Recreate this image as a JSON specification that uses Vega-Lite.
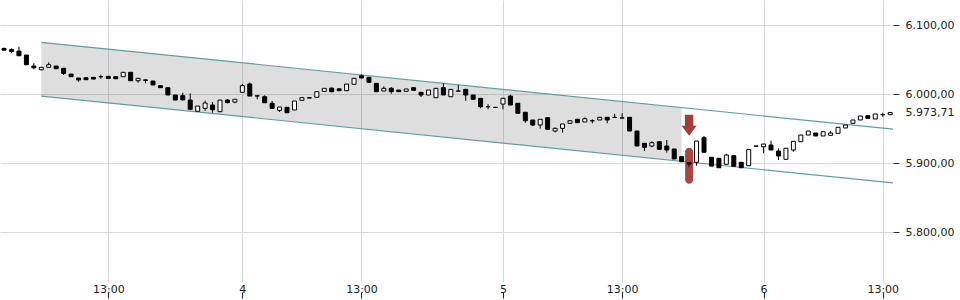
{
  "$schema": "https://vega.github.io/schema/vega-lite/v6.json",
  "width": 893,
  "height": 282,
  "autosize": {"type": "none"},
  "padding": {"left": 0, "top": 0, "right": 67, "bottom": 18},
  "background": "white",
  "config": {"view": {"stroke": null}},
  "datasets": {
    "candles": [
      {"i":0,"open":6066.5,"high":6067.5,"low":6063.5,"close":6064},
      {"i":1,"open":6065,"high":6066.7,"low":6059.5,"close":6062},
      {"i":2,"open":6062.7,"high":6069,"low":6055.9,"close":6055.9},
      {"i":3,"open":6056.9,"high":6057,"low":6042.9,"close":6042.9},
      {"i":4,"open":6041,"high":6045,"low":6036.2,"close":6038.5},
      {"i":5,"open":6035.6,"high":6039.5,"low":6035,"close":6039.1},
      {"i":6,"open":6039.1,"high":6046.4,"low":6039.1,"close":6042.9},
      {"i":7,"open":6041,"high":6041,"low":6037.1,"close":6037.1},
      {"i":8,"open":6037.7,"high":6037.7,"low":6028,"close":6030.4},
      {"i":9,"open":6029.4,"high":6029.4,"low":6025.5,"close":6025.5},
      {"i":10,"open":6023.6,"high":6023.6,"low":6018.3,"close":6020.7},
      {"i":11,"open":6024,"high":6024.5,"low":6021,"close":6021.2},
      {"i":12,"open":6024.6,"high":6025,"low":6021.5,"close":6022.2},
      {"i":13,"open":6025.4,"high":6028.4,"low":6022.6,"close":6025.6},
      {"i":14,"open":6026,"high":6026.5,"low":6023,"close":6023},
      {"i":15,"open":6025.5,"high":6025.5,"low":6022.6,"close":6022.6},
      {"i":16,"open":6025.5,"high":6031.9,"low":6025.5,"close":6031.9},
      {"i":17,"open":6031.9,"high":6031.9,"low":6019.7,"close":6019.7},
      {"i":18,"open":6019.7,"high":6023.2,"low":6016.8,"close":6023.2},
      {"i":19,"open":6020.9,"high":6021,"low":6015.9,"close":6020.3},
      {"i":20,"open":6019.3,"high":6019.3,"low":6013.5,"close":6013.5},
      {"i":21,"open":6012.5,"high":6012.5,"low":6009.6,"close":6009.6},
      {"i":22,"open":6009.6,"high":6009.6,"low":5999,"close":5999},
      {"i":23,"open":5999,"high":5999,"low":5991.7,"close":5991.7},
      {"i":24,"open":5998,"high":6002.3,"low":5991,"close":5992},
      {"i":25,"open":5991.7,"high":6001.4,"low":5978.3,"close":5978.3},
      {"i":26,"open":5975.4,"high":5983,"low":5975,"close":5983},
      {"i":27,"open":5979.7,"high":5991,"low":5976,"close":5987.4},
      {"i":28,"open":5984.5,"high":5988.8,"low":5973.4,"close":5977.7},
      {"i":29,"open":5974.8,"high":5991.7,"low":5974.8,"close":5991.7},
      {"i":30,"open":5991.7,"high":5993,"low":5987,"close":5988},
      {"i":31,"open":5988.8,"high":5992.8,"low":5987,"close":5992.8},
      {"i":32,"open":6002.9,"high":6015,"low":6002.9,"close":6012.5},
      {"i":33,"open":6015,"high":6017,"low":5997.5,"close":5997.5},
      {"i":34,"open":5997.8,"high":5997.8,"low":5992.8,"close":5997.5},
      {"i":35,"open":5996.5,"high":5998.6,"low":5987.8,"close":5987.8},
      {"i":36,"open":5987,"high":5990.3,"low":5979.7,"close":5979.7},
      {"i":37,"open":5976.8,"high":5981.6,"low":5974.4,"close":5981.6},
      {"i":38,"open":5981.2,"high":5981.2,"low":5973.3,"close":5973.3},
      {"i":39,"open":5977.3,"high":5990.3,"low":5977.3,"close":5990.3},
      {"i":40,"open":5991.3,"high":5995.5,"low":5991,"close":5995.1},
      {"i":41,"open":5994.5,"high":5996,"low":5994.5,"close":5995.2},
      {"i":42,"open":5995.7,"high":6003.8,"low":5995.7,"close":6003.8},
      {"i":43,"open":6004.3,"high":6008.7,"low":6004.3,"close":6008.7},
      {"i":44,"open":6009,"high":6010,"low":6002.9,"close":6003.8},
      {"i":45,"open":6008,"high":6008,"low":6005.2,"close":6005.2},
      {"i":46,"open":6005.2,"high":6014.9,"low":6005.2,"close":6014.9},
      {"i":47,"open":6014.5,"high":6023.2,"low":6014.5,"close":6023.2},
      {"i":48,"open":6026.9,"high":6029,"low":6023.6,"close":6023.6},
      {"i":49,"open":6024.6,"high":6024.6,"low":6017.4,"close":6017.4},
      {"i":50,"open":6015.9,"high":6015.9,"low":6003.8,"close":6003.8},
      {"i":51,"open":6004.8,"high":6011.6,"low":6004.8,"close":6008.7},
      {"i":52,"open":6008.7,"high":6010.6,"low":6000.9,"close":6003.8},
      {"i":53,"open":6006.2,"high":6006.2,"low":6003.8,"close":6003.8},
      {"i":54,"open":6004.3,"high":6007.7,"low":6004.3,"close":6007.7},
      {"i":55,"open":6009.6,"high":6010.6,"low":6005.8,"close":6005.8},
      {"i":56,"open":6002.9,"high":6002.9,"low":5996,"close":5999},
      {"i":57,"open":5999,"high":6006.2,"low":5999,"close":6006.2},
      {"i":58,"open":5995.1,"high":6008.7,"low":5995.1,"close":6008.7},
      {"i":59,"open":6009.6,"high":6016,"low":5999,"close":5999},
      {"i":60,"open":5996.5,"high":6007.2,"low":5996.5,"close":6007.2},
      {"i":61,"open":6004.6,"high":6013.5,"low":6004.6,"close":6004.8},
      {"i":62,"open":6007.2,"high":6007.2,"low":5990.7,"close":5999},
      {"i":63,"open":5999,"high":5999,"low":5991.7,"close":5992.8},
      {"i":64,"open":5994.2,"high":5994.2,"low":5979.7,"close":5982},
      {"i":65,"open":5982.1,"high":5985.5,"low":5978.3,"close":5982},
      {"i":66,"open":5981.2,"high":5981.2,"low":5980.9,"close":5980.9},
      {"i":67,"open":5985.9,"high":5994.2,"low":5978.3,"close":5994.2},
      {"i":68,"open":5997.5,"high":5999,"low":5984.5,"close":5984.5},
      {"i":69,"open":5987,"high":5987,"low":5972.5,"close":5972.5},
      {"i":70,"open":5974,"high":5974,"low":5958.8,"close":5961.7},
      {"i":71,"open":5962.8,"high":5962.8,"low":5954,"close":5955.5},
      {"i":72,"open":5955.5,"high":5963.8,"low":5950.2,"close":5963.8},
      {"i":73,"open":5966.1,"high":5967,"low":5949.3,"close":5949.3},
      {"i":74,"open":5946.8,"high":5952,"low":5945,"close":5950.7},
      {"i":75,"open":5950.7,"high":5957,"low":5944.4,"close":5957},
      {"i":76,"open":5958,"high":5961.7,"low":5958,"close":5961.7},
      {"i":77,"open":5963.8,"high":5963.8,"low":5958.9,"close":5958.9},
      {"i":78,"open":5959.9,"high":5966.7,"low":5959.9,"close":5964.6},
      {"i":79,"open":5961.6,"high":5963.8,"low":5958,"close":5961.8},
      {"i":80,"open":5962.8,"high":5966.7,"low":5962.8,"close":5966.7},
      {"i":81,"open":5966.7,"high":5966.7,"low":5958,"close":5962.8},
      {"i":82,"open":5966.4,"high":5971.5,"low":5966.4,"close":5966.6},
      {"i":83,"open":5965.6,"high":5972.5,"low":5965.6,"close":5965.8},
      {"i":84,"open":5966.7,"high":5966.7,"low":5946.8,"close":5946.8},
      {"i":85,"open":5946.8,"high":5946.8,"low":5925.1,"close":5925.1},
      {"i":86,"open":5929,"high":5929,"low":5917.8,"close":5923.2},
      {"i":87,"open":5925.1,"high":5932,"low":5923.2,"close":5929.9},
      {"i":88,"open":5931.3,"high":5931.3,"low":5920.3,"close":5920.3},
      {"i":89,"open":5925.1,"high":5933.8,"low":5915.4,"close":5919.3},
      {"i":90,"open":5920.8,"high":5920.8,"low":5906.3,"close":5906.3},
      {"i":91,"open":5909.6,"high":5909.6,"low":5902.3,"close":5902.3},
      {"i":92,"open":5901,"high":5901.5,"low":5895,"close":5899},
      {"i":93,"open":5901.5,"high":5932.3,"low":5896.5,"close":5932.3},
      {"i":94,"open":5937.1,"high":5939.6,"low":5916,"close":5916},
      {"i":95,"open":5908.7,"high":5908.7,"low":5896,"close":5896},
      {"i":96,"open":5907.3,"high":5907.3,"low":5893.6,"close":5893.6},
      {"i":97,"open":5898.6,"high":5914,"low":5898.6,"close":5912},
      {"i":98,"open":5911,"high":5911,"low":5895.7,"close":5895.7},
      {"i":99,"open":5901.5,"high":5901.5,"low":5893.6,"close":5893.6},
      {"i":100,"open":5896.5,"high":5920,"low":5896.5,"close":5920},
      {"i":101,"open":5925.2,"high":5925.2,"low":5924.8,"close":5924.8},
      {"i":102,"open":5924,"high":5928,"low":5914.5,"close":5928},
      {"i":103,"open":5926.5,"high":5932.8,"low":5919.3,"close":5919.3},
      {"i":104,"open":5917.8,"high":5921.8,"low":5904.8,"close":5910.6},
      {"i":105,"open":5905.8,"high":5921.8,"low":5905.8,"close":5921.8},
      {"i":106,"open":5919.3,"high":5931.9,"low":5916.8,"close":5931.9},
      {"i":107,"open":5931.3,"high":5941,"low":5931.3,"close":5941},
      {"i":108,"open":5941,"high":5946.8,"low":5941,"close":5946.8},
      {"i":109,"open":5943.9,"high":5943.9,"low":5939.6,"close":5939.6},
      {"i":110,"open":5939.6,"high":5945.8,"low":5939.6,"close":5945.8},
      {"i":111,"open":5940.6,"high":5947,"low":5940.6,"close":5944},
      {"i":112,"open":5943.5,"high":5952.2,"low":5943.5,"close":5952.2},
      {"i":113,"open":5951.2,"high":5955.5,"low":5951.2,"close":5955.5},
      {"i":114,"open":5958,"high":5962.8,"low":5958,"close":5962.8},
      {"i":115,"open":5962.8,"high":5968.6,"low":5962.8,"close":5968.6},
      {"i":116,"open":5969,"high":5969,"low":5965.2,"close":5965.2},
      {"i":117,"open":5964.2,"high":5971.5,"low":5964.2,"close":5971.5},
      {"i":118,"open":5970.4,"high":5973.3,"low":5967.5,"close":5970.6},
      {"i":119,"open":5970.5,"high":5973.71,"low":5970.5,"close":5973.71}
    ],
    "channel": [
      {"i": 5, "upper": 6075.4, "lower": 5997.5},
      {"i": 91, "upper": 5980.7, "lower": 5902.8}
    ],
    "lines": [
      {"i1": 5, "p1": 6075.4, "i2": 120, "p2": 5948.8},
      {"i1": 5, "p1": 5997.5, "i2": 120, "p2": 5870.9}
    ],
    "signal": [
      {"i": 92, "arrow": 5955, "top": 5922.6, "bottom": 5870.4}
    ]
  },
  "resolve": {"axis": {"x": "independent", "y": "independent"}},
  "layer": [
    {
      "data": {"name": "channel"},
      "mark": {"type": "area", "fill": "#000000", "fillOpacity": 0.13, "opacity": 1},
      "encoding": {
        "x": {"field": "i", "type": "quantitative", "title": null, "scale": {"domain": [-0.545, 119.38], "nice": false, "zero": false, "padding": 0}, "axis": null},
        "y": {"field": "upper", "type": "quantitative", "title": null, "scale": {"domain": [5728, 6136.7], "nice": false, "zero": false}, "axis": null},
        "y2": {"field": "lower"}
      }
    },
    {
      "data": {"name": "lines"},
      "mark": {"type": "rule", "color": "#5f9ea0", "strokeWidth": 1.2, "clip": true},
      "encoding": {
        "x": {"field": "i1", "type": "quantitative", "title": null, "scale": {"domain": [-0.545, 119.38], "nice": false, "zero": false, "padding": 0}, "axis": null},
        "x2": {"field": "i2"},
        "y": {"field": "p1", "type": "quantitative", "title": null, "scale": {"domain": [5728, 6136.7], "nice": false, "zero": false}, "axis": null},
        "y2": {"field": "p2"}
      }
    },
    {
      "data": {"name": "signal"},
      "mark": {"type": "bar", "color": "#a23d39", "width": 8, "cornerRadius": 4, "opacity": 0.95},
      "encoding": {
        "x": {"field": "i", "type": "quantitative", "title": null, "scale": {"domain": [-0.545, 119.38], "nice": false, "zero": false, "padding": 0}, "axis": null},
        "y": {"field": "top", "type": "quantitative", "title": null, "scale": {"domain": [5728, 6136.7], "nice": false, "zero": false}, "axis": null},
        "y2": {"field": "bottom"}
      }
    },
    {
      "data": {"name": "candles"},
      "mark": {"type": "rule", "color": "#000000", "strokeWidth": 1},
      "encoding": {
        "x": {"field": "i", "type": "quantitative", "title": null, "scale": {"domain": [-0.545, 119.38], "nice": false, "zero": false, "padding": 0}, "axis": null},
        "y": {"field": "low", "type": "quantitative", "title": null, "scale": {"domain": [5728, 6136.7], "nice": false, "zero": false},
          "axis": {
            "orient": "right",
            "values": [5973.71],
            "labelExpr": "replace(replace(replace(format(datum.value, ',.2f'), ',', '_'), '.', ','), '_', '.')",
            "grid": false,
            "ticks": false,
            "tickSize": 0,
            "labelPadding": 12,
            "domain": false,
            "labelFont": "DejaVu Sans",
            "labelFontSize": 11,
            "labelColor": "#222222",
            "labelOverlap": false,
            "labelFlush": false,
            "title": null
          }
        },
        "y2": {"field": "high"}
      }
    },
    {
      "data": {"name": "candles"},
      "mark": {"type": "bar", "width": 4, "stroke": "#000000", "strokeWidth": 1},
      "encoding": {
        "x": {"field": "i", "type": "quantitative", "title": null, "scale": {"domain": [-0.545, 119.38], "nice": false, "zero": false, "padding": 0},
          "axis": {
            "orient": "bottom",
            "values": [14, 32, 48, 67, 83, 102, 118],
            "labelExpr": "datum.value == 32 ? '4' : datum.value == 67 ? '5' : datum.value == 102 ? '6' : '13:00'",
            "grid": true,
            "gridColor": "#d9d9d9",
            "ticks": true,
            "tickSize": 6,
            "tickWidth": 1,
            "tickColor": "#222222",
            "tickOpacity": 1,
            "offset": 10,
            "domain": false,
            "labelPadding": -15,
            "labelFont": "DejaVu Sans",
            "labelFontSize": 11,
            "labelColor": "#222222",
            "labelFlush": false,
            "labelOverlap": false,
            "title": null
          }
        },
        "y": {"field": "open", "type": "quantitative", "title": null, "scale": {"domain": [5728, 6136.7], "nice": false, "zero": false},
          "axis": {
            "orient": "right",
            "values": [5800, 5900, 6000, 6100],
            "labelExpr": "replace(replace(replace(format(datum.value, ',.2f'), ',', '_'), '.', ','), '_', '.')",
            "grid": true,
            "gridColor": "#d9d9d9",
            "tickSize": 6,
            "tickColor": "#333333",
            "labelPadding": 6,
            "domain": false,
            "labelFont": "DejaVu Sans",
            "labelFontSize": 11,
            "labelColor": "#222222",
            "labelOverlap": false,
            "labelFlush": false,
            "title": null
          }
        },
        "y2": {"field": "close"},
        "fill": {"condition": {"test": "datum.close > datum.open", "value": "#ffffff"}, "value": "#000000"}
      }
    },
    {
      "data": {"name": "signal"},
      "mark": {"type": "point", "shape": "M-0.4,-1L0.4,-1L0.4,0.03L0.72,0.03L0,1L-0.72,0.03L-0.4,0.03Z", "size": 441, "filled": true, "color": "#a23d39", "opacity": 1, "strokeWidth": 0},
      "encoding": {
        "x": {"field": "i", "type": "quantitative", "title": null, "scale": {"domain": [-0.545, 119.38], "nice": false, "zero": false, "padding": 0}, "axis": null},
        "y": {"field": "arrow", "type": "quantitative", "title": null, "scale": {"domain": [5728, 6136.7], "nice": false, "zero": false}, "axis": null}
      }
    }
  ]
}
